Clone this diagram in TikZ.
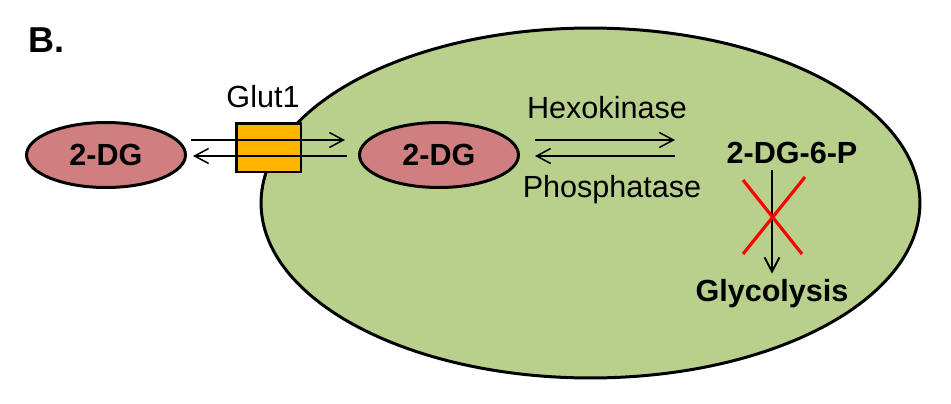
\documentclass[tikz,border=0pt]{standalone}
\usepackage{fontspec}
\setmainfont{Liberation Sans}
\usetikzlibrary{shapes.geometric,arrows.meta}

\definecolor{cellgreen}{HTML}{B9D08C}
\definecolor{dgpink}{HTML}{CF7F7F}
\definecolor{glutorange}{HTML}{FFB400}

\tikzset{
  mol/.style={ellipse,draw,line width=1.7pt,fill=dgpink,minimum width=3.18cm,minimum height=1.3cm,inner sep=0,font=\fontsize{17.4}{20}\selectfont\bfseries},
  lbl/.style={font=\fontsize{17.4}{20}\selectfont},
  bold/.style={font=\fontsize{17.4}{20}\selectfont\bfseries},
  flux/.style={->,line width=0.85pt},
  block/.style={draw=red,line width=1.8pt}
}

\begin{document}
\begin{tikzpicture}[x=0.02cm,y=-0.02cm,>={Straight Barb[length=8pt,width=8.5pt]}]
  \useasboundingbox (0,0) rectangle (951,403);

  \node (cell) at (590.5,203) [ellipse,draw,line width=1.7pt,fill=cellgreen,minimum width=13.18cm,minimum height=7cm]{};

  \node (B) at (47,40) [font=\fontsize{20.5}{24}\selectfont\bfseries]{B.};

  \node (dgout) at (106,155) [mol]{2-DG};
  \node (dgin) at (439,155) [mol]{2-DG};

  \node (glut) at (268.5,147.5) [draw,line width=1.7pt,fill=glutorange,minimum width=1.3cm,minimum height=0.98cm]{};
  \node (glutlbl) at (263,97) [lbl]{Glut1};

  \node (hexo) at (607,108) [lbl]{Hexokinase};
  \node (phos) at (612,190) [lbl]{Phosphatase};

  \node (dg6p) at (792,153) [bold]{2-DG-6-P};
  \node (glyc) at (772,294) [bold]{Glycolysis};

  % transport through Glut1
  \coordinate (inA) at (191,140);
  \coordinate (inB) at (345,140);
  \coordinate (outA) at (347,156);
  \coordinate (outB) at (193,156);
  \draw[flux] (inA) -- (inB);
  \draw[flux] (outA) -- (outB);

  % phosphorylation
  \coordinate (hexA) at (535,140);
  \coordinate (hexB) at (675,140);
  \coordinate (phoA) at (675,156);
  \coordinate (phoB) at (535,156);
  \draw[flux] (hexA) -- (hexB);
  \draw[flux] (phoA) -- (phoB);

  \draw[flux,line width=1.1pt] (dg6p.south -| glyc.north) -- (glyc.north);

  % blocked
  \draw[block] (743,180) -- (802,254);
  \draw[block] (805,177) -- (743,254);

\end{tikzpicture}
\end{document}
